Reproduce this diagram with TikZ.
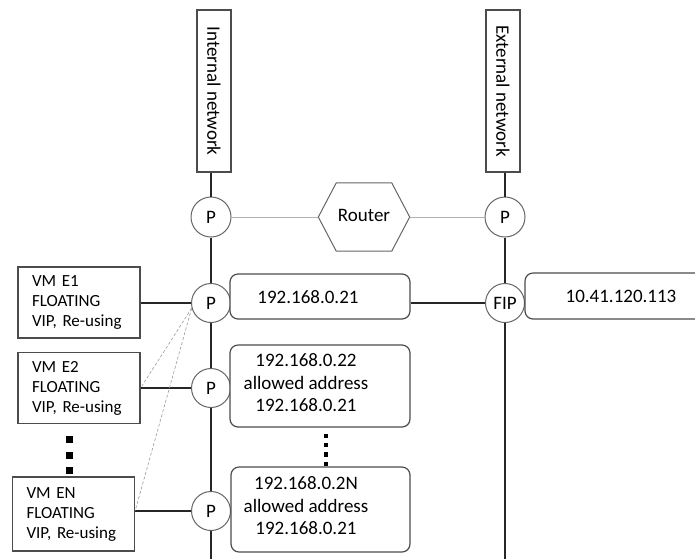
\documentclass[tikz,border=0pt]{standalone}
\usepackage{fontspec}
\setmainfont{Carlito}
\usetikzlibrary{positioning}

\begin{document}
\begin{tikzpicture}
	[
	  x=1pt, y=-1pt,
	  every node/.style={text=black},
	  wire/.style={line width=1.8pt, draw=black!85},
	  thinwire/.style={line width=0.9pt, draw=black!30},
	  hint/.style={line width=0.6pt, draw=black!40, densely dashed},
	  netbox/.style={draw=black!70, line width=1.2pt, rotate=-90, minimum width=162pt,
	    minimum height=34pt, inner sep=0pt, font=\fontsize{19}{22}\selectfont},
	  port/.style={circle, draw=black!60, line width=1pt, fill=white, minimum size=39pt,
	    inner sep=0pt, font=\fontsize{19}{22}\selectfont},
	  vmbox/.style={draw=black!70, line width=1.2pt, fill=white, align=left, text width=94pt,
	    inner xsep=14pt, inner ysep=0pt, minimum height=71pt, font=\fontsize{17}{20}\selectfont},
	  addrbox/.style={draw=black!70, line width=1.2pt, rounded corners=8pt, fill=white, inner sep=0pt},
	  addr/.style={align=center, inner sep=0pt, font=\fontsize{19}{22.5}\selectfont},
	]
	\useasboundingbox (0,0) rectangle (695,558);
	\clip (0,0) rectangle (695,558);

	% networks
	\node (intnet) [netbox] at (214,91) {Internal network};
	\node (extnet) [netbox] at (503,91) {External network};
	\coordinate (intend) at (211,562);
	\coordinate (extend) at (505,562);

	% router row
	\node (ptop) [port, minimum size=40pt] at (211,217) {P};
	\node (pext) [port, minimum size=40pt] at (505,217) {P};
	\node (router) [minimum width=91pt, minimum height=68pt, inner sep=0pt,
	  font=\fontsize{19}{22}\selectfont] at (364,217) {\raisebox{3pt}{Router}};
	\draw [line width=1pt, draw=black!60]
	  (router.west) -- ([xshift=18pt]router.north west) -- ([xshift=-18pt]router.north east)
	  -- (router.east) -- ([xshift=-18pt]router.south east) -- ([xshift=18pt]router.south west) -- cycle;

	% vertical dots
	\foreach \y in {439,455,470.5}
	  \fill [black] (69,\y) +(-3.5,-3.5) rectangle +(3.5,3.5);
	\foreach \y in {436,445,454.5,464}
	  \fill [black] (326,\y) +(-2.3,-2.3) rectangle +(2.3,2.3);

	% ports
	\node (p1) [port] at (211,303) {P};
	\node (p2) [port] at (211,388) {P};
	\node (pn) [port] at (211,511) {P};
	\node (fip) [port] at (505,303) {FIP};

	% virtual machines
	\node (vm1) [vmbox] at (79,302.5) {VM E1\\FLOATING\\VIP, Re-using};
	\node (vm2) [vmbox] at (79,388) {VM E2\\FLOATING\\VIP, Re-using};
	\node (vmn) [vmbox, minimum height=74pt] at (73.5,514) {VM EN\\FLOATING\\VIP, Re-using};

	% addresses
	\node (ip1) [addrbox, minimum width=180pt, minimum height=45pt] at (320,296.5) {};
	\node (ip1txt) [addr] at (308,297) {192.168.0.21};
	\node (ip2) [addrbox, minimum width=180pt, minimum height=82pt] at (320,386) {};
	\node (ip2txt) [addr] at (306,383) {192.168.0.22\\allowed address\\192.168.0.21};
	\node (ipn) [addrbox, minimum width=179pt, minimum height=85pt] at (320.5,509.5) {};
	\node (ipntxt) [addr] at (306,506) {192.168.0.2N\\allowed address\\192.168.0.21};
	\node (fipip) [addrbox, minimum width=192pt, minimum height=46pt,
	  font=\fontsize{19}{22}\selectfont] at (621,296) {10.41.120.113};

	% wiring
	\draw [wire] (ptop |- intnet.east) -- (ptop);
	\draw [wire] (ptop) -- (p1) (p1) -- (p2) (p2) -- (pn) (pn) -- (intend);
	\draw [wire] (pext |- extnet.east) -- (pext);
	\draw [wire] (pext) -- (fip) (fip) -- (extend);
	\draw [wire] (vm1.east |- p1) -- (p1);
	\draw [wire] (vm2.east |- p2) -- (p2);
	\draw [wire] (vmn.east |- pn) -- (pn);
	\draw [wire] (ip1.east |- fip) -- (fip);
	\draw [thinwire] (ptop) -- (router.west) (router.east) -- (pext);
	\draw [hint] (p1.195) -- (vm2.east |- p2);
	\draw [hint] (p1.195) -- (vmn.east |- pn);
\end{tikzpicture}
\end{document}
